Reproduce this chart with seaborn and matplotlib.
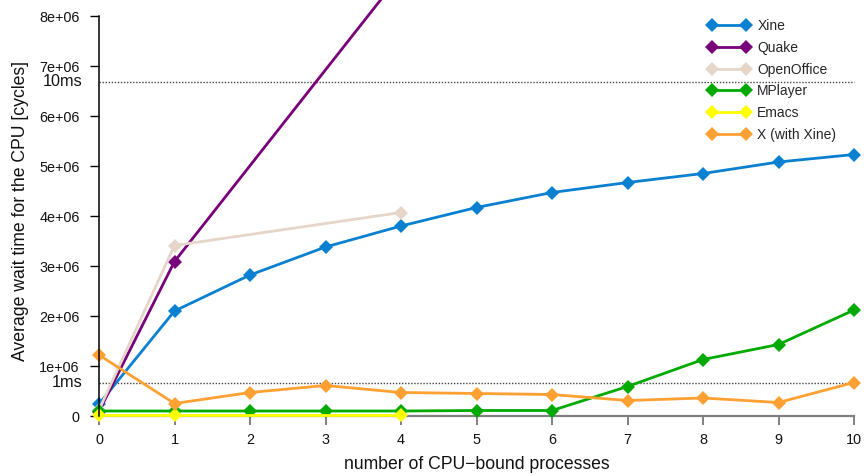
import matplotlib
matplotlib.use("Agg")
import matplotlib.pyplot as plt
import seaborn as sns
import numpy as np
import pandas as pd

# ---- data ----
x_full = [0, 1, 2, 3, 4, 5, 6, 7, 8, 9, 10]
x_short = [0, 1, 4]

xine = [0.24e6, 2.10e6, 2.82e6, 3.38e6, 3.80e6, 4.17e6, 4.47e6, 4.67e6, 4.85e6, 5.08e6, 5.23e6]
quake = [0.09e6, 3.09e6, 8.84e6]
openoffice = [0.12e6, 3.41e6, 4.07e6]
mplayer = [0.10e6, 0.10e6, 0.10e6, 0.10e6, 0.10e6, 0.11e6, 0.11e6, 0.59e6, 1.13e6, 1.43e6, 2.12e6]
emacs = [0.03e6, 0.03e6, 0.03e6]
x_xine = [1.22e6, 0.25e6, 0.47e6, 0.61e6, 0.47e6, 0.45e6, 0.43e6, 0.31e6, 0.36e6, 0.27e6, 0.67e6]

series_names = ["Xine", "Quake", "OpenOffice", "MPlayer", "Emacs", "X (with Xine)"]
series_x = [x_full, x_short, x_short, x_full, x_short, x_full]
series_y = [xine, quake, openoffice, mplayer, emacs, x_xine]
series_colors = ["#0a80d0", "#780078", "#e6d6ca", "#00aa00", "#ffff00", "#ffa033"]

yticks = [0, 1e6, 2e6, 3e6, 4e6, 5e6, 6e6, 7e6, 8e6]
ytick_labels = ["0", "1e+06", "2e+06", "3e+06", "4e+06", "5e+06", "6e+06", "7e+06", "8e+06"]
ref_values = [6.69e6, 0.669e6]
ref_labels = ["10ms", "1ms"]

# ---- style ----
sns.set_style("ticks")
plt.rcParams["font.family"] = ["Liberation Sans", "DejaVu Sans"]

fig = plt.figure(figsize=(8.64, 4.75), dpi=100)
ax = fig.add_axes([91.45 / 864, 53 / 475, 770.1 / 864, 422 / 475])

for name, xs, ys, col in zip(series_names, series_x, series_y, series_colors):
    df = pd.DataFrame({"x": xs, "y": ys})
    sns.lineplot(data=df, x="x", y="y", ax=ax, color=col, marker="D",
                 markersize=6.8, markeredgecolor=col, markeredgewidth=0,
                 linewidth=2.0, label=name)

for v in ref_values:
    ax.hlines(v, 0, 10, colors="#444444", linewidth=1.0,
              linestyles=(0, (1, 1.2)), zorder=0.5)
for v, lab in zip(ref_values, ref_labels):
    ax.annotate(lab, xy=(0, v), xytext=(-11.9, 0), textcoords="offset points",
                ha="right", va="center", fontsize=11.7, color="#111111")

ax.set_xlim(-0.1, 10.1)
ax.set_ylim(-0.12e6, 8.32e6)
ax.set_xticks(x_full)
ax.set_xticklabels([str(v) for v in x_full])
ax.set_yticks(yticks)
ax.set_yticklabels(ytick_labels)

ax.spines["top"].set_visible(False)
ax.spines["right"].set_visible(False)
ax.spines["left"].set_position(("data", 0))
ax.spines["bottom"].set_position(("data", 0))
ax.spines["left"].set_bounds(0, 8e6)
ax.spines["bottom"].set_bounds(0, 10)
ax.spines["left"].set_color("black")
ax.spines["left"].set_linewidth(1.1)
ax.spines["bottom"].set_color("#808080")
ax.spines["bottom"].set_linewidth(1.6)
ax.spines["bottom"].set_zorder(0.4)

ax.tick_params(axis="y", length=6.8, width=1.0, color="black", pad=7,
               labelsize=10.4, labelcolor="#111111")
ax.tick_params(axis="x", length=6.5, width=1.4, color="#808080", pad=5.5,
               labelsize=10.4, labelcolor="#111111")

ax.set_xlabel("number of CPU\u2212bound processes", fontsize=12.7, color="#111111")
ax.set_ylabel("Average wait time for the CPU [cycles]", fontsize=12.7, color="#111111")
ax.xaxis.set_label_coords(0.5, -0.0806)
ax.yaxis.set_label_coords(-0.081, 0.5)

leg = ax.legend(loc="upper left", bbox_to_anchor=(708 / 864, 1 - 19 / 475),
                bbox_transform=fig.transFigure, frameon=False, numpoints=2,
                handlelength=3.0, handletextpad=0.55, labelspacing=0.56,
                borderpad=0, borderaxespad=0, fontsize=10)

fig.savefig("out.png", dpi=100)
